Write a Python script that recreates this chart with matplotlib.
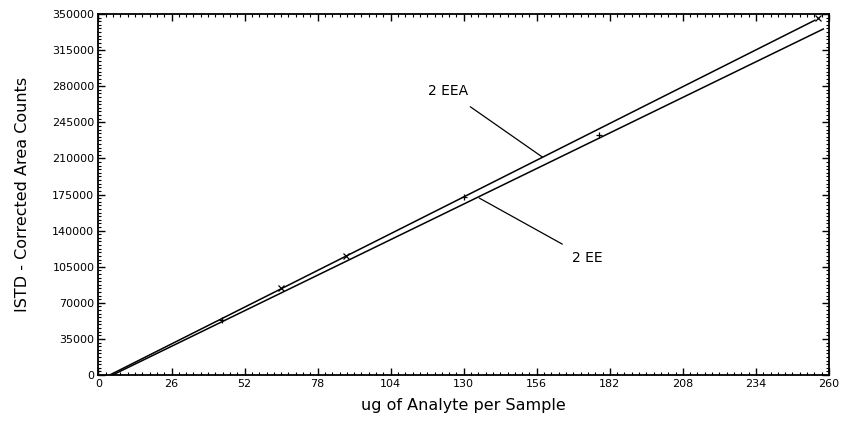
import matplotlib.pyplot as plt
from matplotlib.ticker import MultipleLocator

plt.rcParams['font.family'] = ['DejaVu Sans']

# fitted calibration lines (end points)
eea_x = [4, 255]
eea_y = [0, 344000]
ee_x = [5, 258]
ee_y = [0, 335500]

# plotted standards
eea_pts_x = [65, 88, 256]
eea_pts_y = [84500, 115000, 346000]
ee_pts_x = [44, 130, 178]
ee_pts_y = [53000, 172500, 232500]

x_ticks = [0, 26, 52, 78, 104, 130, 156, 182, 208, 234, 260]
y_ticks = [0, 35000, 70000, 105000, 140000, 175000, 210000, 245000, 280000, 315000, 350000]

fig = plt.figure(figsize=(8.44, 4.25), dpi=100)
ax = fig.add_axes([0.1167, 0.1176, 0.8655, 0.8494])

ax.plot(eea_x, eea_y, color='black', lw=1.1)
ax.plot(ee_x, ee_y, color='black', lw=1.1)
ax.plot(eea_pts_x, eea_pts_y, ls='none', marker='x', ms=4, mew=0.9, color='black')
ax.plot(ee_pts_x, ee_pts_y, ls='none', marker='+', ms=5, mew=0.9, color='black')

# labels with leader lines
ax.annotate('2 EEA', xy=(158, 211300), xytext=(124.5, 275000),
            ha='center', va='center', fontsize=10,
            arrowprops=dict(arrowstyle='-', lw=0.9, color='black',
                            shrinkA=7, shrinkB=0))
ax.annotate('2 EE', xy=(135.5, 171600), xytext=(168.5, 113500),
            ha='left', va='center', fontsize=10,
            arrowprops=dict(arrowstyle='-', lw=0.9, color='black',
                            shrinkA=6, shrinkB=0))

ax.set_xlim(0, 260)
ax.set_ylim(0, 350000)
ax.set_xticks(x_ticks)
ax.set_yticks(y_ticks)
ax.xaxis.set_minor_locator(MultipleLocator(2.6))
ax.yaxis.set_minor_locator(MultipleLocator(3500))
ax.tick_params(which='both', direction='in', top=True, right=True,
               labelsize=8, pad=3)
ax.tick_params(which='major', length=5, width=1)
ax.tick_params(which='minor', length=2.5, width=0.8)
for s in ax.spines.values():
    s.set_linewidth(1.3)

ax.set_xlabel('ug of Analyte per Sample', fontsize=11.5, labelpad=6)
ax.set_ylabel('ISTD - Corrected Area Counts', fontsize=11.5, labelpad=16)

fig.savefig('out.png', dpi=100)
